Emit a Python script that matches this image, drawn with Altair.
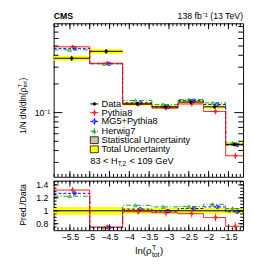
import altair as alt
import pandas as pd
import numpy as np

FONT = "Liberation Sans"

# ---------------- values ----------------
bin_edges = [-5.91, -5.0, -4.17, -3.43, -2.77, -2.13, -1.57, -1.13]
data_vals = [0.372, 0.440, 0.1236, 0.115, 0.129, 0.115, 0.0464]
total_unc_rel = [0.06, 0.06, 0.045, 0.045, 0.045, 0.045, 0.045]
stat_unc_rel = [0.006, 0.005, 0.005, 0.005, 0.005, 0.006, 0.009]

generators = ["Pythia8", "MG5+Pythia8", "Herwig7"]
ratio_pythia8 = [1.32, 0.75, 0.985, 0.97, 0.955, 0.895, 0.76]
ratio_mg5 = [1.27, 0.74, 1.025, 0.995, 1.035, 1.06, 0.985]
ratio_herwig7 = [1.225, 0.74, 1.085, 1.06, 1.065, 1.10, 1.035]
err_pythia8 = [0.05, 0.04, 0.045, 0.06, 0.06, 0.06, 0.06]
err_mg5 = [0.02, 0.015, 0.015, 0.02, 0.02, 0.02, 0.03]
err_herwig7 = [0.02, 0.015, 0.015, 0.02, 0.02, 0.02, 0.03]

x_major_ticks = [-5.5, -5, -4.5, -4, -3.5, -3, -2.5, -2, -1.5]
x_minor_ticks = [round(v, 2) for v in np.arange(-5.9, -1.15, 0.1)]
top_major_ticks = [0.1]
top_minor_ticks = [0.03, 0.04, 0.05, 0.06, 0.07, 0.08, 0.09, 0.2, 0.3, 0.4, 0.5, 0.6, 0.7, 0.8]
ratio_major_ticks = [0.8, 1.0, 1.2, 1.4]
ratio_minor_ticks = [round(v, 2) for v in np.arange(0.75, 1.46, 0.05)]

legend_labels = ["Data", "Pythia8", "MG5+Pythia8", "Herwig7",
                 "Statistical Uncertainty", "Total Uncertainty"]

# ---------------- styles ----------------
colors = {"Pythia8": "#ff0000", "MG5+Pythia8": "#0000ff", "Herwig7": "#1f9e1f"}
dashes = {"Pythia8": [1, 0], "MG5+Pythia8": [3, 2], "Herwig7": [5, 2, 1, 2]}
shapes = {"Pythia8": "diamond", "MG5+Pythia8": "circle", "Herwig7": "triangle-up"}
offsets = {"Pythia8": 1, "MG5+Pythia8": 3, "Herwig7": -2}
ratios = {"Pythia8": ratio_pythia8, "MG5+Pythia8": ratio_mg5, "Herwig7": ratio_herwig7}
errs = {"Pythia8": err_pythia8, "MG5+Pythia8": err_mg5, "Herwig7": err_herwig7}
YELLOW = "#ffff00"
STATC = "#c8c2a6"
MSIZE, MSW = 13, 0.8

W, HT, HR = 195, 158, 51

# Arial-compatible advance widths (em) for text placement
AW = {'1': .556, '/': .278, 'N': .722, ' ': .278, 'd': .556, 'l': .222, 'n': .556,
      '(': .333, ')': .333, 'ρ': .57, 'T': .611, 't': .278, 'o': .556, '8': .556,
      '3': .556, '<': .584, 'H': .722, ',': .278, '2': .556}


def tw(s, size):
    return sum(AW.get(c, .556) for c in s) * size


# ---------------- tables ----------------
lo = bin_edges[:-1]
hi = bin_edges[1:]
bins = pd.DataFrame({
    "lo": lo, "hi": hi,
    "c": [(a + b) / 2 for a, b in zip(lo, hi)],
    "d": data_vals,
    "tlo": [d * (1 - t) for d, t in zip(data_vals, total_unc_rel)],
    "thi": [d * (1 + t) for d, t in zip(data_vals, total_unc_rel)],
    "slo": [d * (1 - s) for d, s in zip(data_vals, stat_unc_rel)],
    "shi": [d * (1 + s) for d, s in zip(data_vals, stat_unc_rel)],
    "rtlo": [1 - t for t in total_unc_rel],
    "rthi": [1 + t for t in total_unc_rel],
    "rslo": [1 - s for s in stat_unc_rel],
    "rshi": [1 + s for s in stat_unc_rel],
    "one": [1.0] * len(lo),
})

mc = {}
steps = {}
for g in generators:
    r = ratios[g]
    e = errs[g]
    mc[g] = pd.DataFrame({
        "c": bins["c"],
        "v": [d * x for d, x in zip(data_vals, r)],
        "vlo": [d * (x - y) for d, x, y in zip(data_vals, r, e)],
        "vhi": [d * (x + y) for d, x, y in zip(data_vals, r, e)],
        "r": r,
        "rlo": [x - y for x, y in zip(r, e)],
        "rhi": [x + y for x, y in zip(r, e)],
    })
    steps[g] = pd.DataFrame({
        "e": bin_edges,
        "v": [d * x for d, x in zip(data_vals, r)] + [data_vals[-1] * r[-1]],
        "r": list(r) + [r[-1]],
    })

one = pd.DataFrame({"a": [0]})

# ---------------- scales / axes ----------------
xsc = alt.Scale(domain=[bin_edges[0], bin_edges[-1]], nice=False, zero=False)
ysc_t = alt.Scale(type="log", domain=[0.0212, 0.866], nice=False)
ysc_r = alt.Scale(domain=[0.70, 1.465], nice=False, zero=False)

lbl = dict(labelFont=FONT, labelFontSize=9, labelColor="black", ticks=False,
           domain=False, grid=False, title=None, labelOverlap=False)
ax_y_t = alt.Axis(values=top_major_ticks, labelExpr="'10⁻¹'", labelPadding=4, **lbl)
ax_x_r = alt.Axis(values=x_major_ticks, format="~g", labelPadding=3, labelFlush=False, **lbl)
ax_y_r = alt.Axis(values=ratio_major_ticks, format="~g", labelPadding=6, **lbl)


def XT(f):
    return alt.X(f + ":Q", scale=xsc, axis=None)


def YT(f):
    return alt.Y(f + ":Q", scale=ysc_t, axis=ax_y_t)


def XR(f):
    return alt.X(f + ":Q", scale=xsc, axis=ax_x_r)


def YR(f):
    return alt.Y(f + ":Q", scale=ysc_r, axis=ax_y_r)


def text(s, x, y, size, align="left", baseline="middle", angle=0, weight="normal"):
    return alt.Chart(one).mark_text(
        text=s, font=FONT, fontSize=size, align=align, baseline=baseline,
        angle=angle, fontWeight=weight, color="black"
    ).encode(x=alt.value(x), y=alt.value(y))


def tick_layers(X, Y, H, xmaj, xmin, ymaj, ymin, xl, yl):
    out = []
    for vals, L in [(xmaj, xl[0]), (xmin, xl[1])]:
        df = pd.DataFrame({"t": vals})
        out.append(alt.Chart(df).mark_rule(color="black", strokeWidth=1).encode(
            x=X("t"), y=alt.value(0), y2=alt.value(L)))
        out.append(alt.Chart(df).mark_rule(color="black", strokeWidth=1).encode(
            x=X("t"), y=alt.value(H), y2=alt.value(H - L)))
    for vals, L in [(ymaj, yl[0]), (ymin, yl[1])]:
        df = pd.DataFrame({"t": vals})
        out.append(alt.Chart(df).mark_rule(color="black", strokeWidth=1).encode(
            y=Y("t"), x=alt.value(0), x2=alt.value(L)))
        out.append(alt.Chart(df).mark_rule(color="black", strokeWidth=1).encode(
            y=Y("t"), x=alt.value(W), x2=alt.value(W - L)))
    return out


# ---------------- upper panel ----------------
top = []
top.append(alt.Chart(bins).mark_rect(color=YELLOW).encode(
    x=XT("lo"), x2="hi:Q", y=YT("tlo"), y2="thi:Q"))
top.append(alt.Chart(bins).mark_rect(color=STATC).encode(
    x=XT("lo"), x2="hi:Q", y=YT("slo"), y2="shi:Q"))
for g in ["Herwig7", "MG5+Pythia8", "Pythia8"]:
    top.append(alt.Chart(steps[g]).mark_line(
        interpolate="step-after", color=colors[g], strokeDash=dashes[g], strokeWidth=1
    ).encode(x=XT("e"), y=YT("v")))
for g in ["Herwig7", "MG5+Pythia8", "Pythia8"]:
    top.append(alt.Chart(mc[g]).mark_rule(color=colors[g], strokeWidth=MSW, xOffset=offsets[g]).encode(
        x=XT("c"), y=YT("vlo"), y2="vhi:Q"))
    top.append(alt.Chart(mc[g]).mark_point(
        shape=shapes[g], filled=False, size=MSIZE, strokeWidth=MSW, color=colors[g], opacity=1,
        xOffset=offsets[g]).encode(x=XT("c"), y=YT("v")))
top.append(alt.Chart(bins).mark_rule(color="black", strokeWidth=1).encode(
    x=XT("lo"), x2="hi:Q", y=YT("d")))
top.append(alt.Chart(bins).mark_rule(color="black", strokeWidth=1).encode(
    x=XT("c"), y=YT("tlo"), y2="thi:Q"))
top.append(alt.Chart(bins).mark_circle(color="black", size=12, opacity=1).encode(
    x=XT("c"), y=YT("d")))
top += tick_layers(XT, YT, HT, x_major_ticks, x_minor_ticks, top_major_ticks, top_minor_ticks,
                   (6, 3), (9, 5))

# header texts
top.append(text("CMS", 0, -4, 9, baseline="alphabetic", weight="bold"))
top.append(text("138 fb⁻¹ (13 TeV)", W, -4, 9, align="right", baseline="alphabetic"))

# y title with super/subscript
s1 = "1/N dN/dln(ρ"
ty0, tx0, tfs = 114, -31.5, 8.5
yend = ty0 - tw(s1, tfs)
top.append(text(s1, tx0, ty0, tfs, angle=270))
top.append(text("T", tx0 - 3, yend, 6, angle=270))
top.append(text("tot", tx0 + 2.5, yend, 6, angle=270))
top.append(text(")", tx0, yend - tw("tot", 6) - 0.5, tfs, angle=270))

# legend
rows = [83, 92, 101, 111, 120.3, 129.7]
lx0, lx1, lxm, ltx, lfs = 37.7, 46, 42, 49.3, 9.5
# Data
top.append(alt.Chart(one).mark_rule(color="black", strokeWidth=1).encode(
    x=alt.value(lx0), x2=alt.value(lx1), y=alt.value(rows[0])))
top.append(alt.Chart(one).mark_circle(color="black", size=12, opacity=1).encode(
    x=alt.value(lxm), y=alt.value(rows[0])))
for i, g in enumerate(generators):
    yy = rows[i + 1]
    top.append(alt.Chart(one).mark_rule(color=colors[g], strokeWidth=1, strokeDash=dashes[g]).encode(
        x=alt.value(lx0), x2=alt.value(lx1), y=alt.value(yy)))
    top.append(alt.Chart(one).mark_rule(color=colors[g], strokeWidth=MSW).encode(
        x=alt.value(lxm), y=alt.value(yy - 3.5), y2=alt.value(yy + 3.5)))
    top.append(alt.Chart(one).mark_point(shape=shapes[g], filled=False, size=MSIZE, strokeWidth=MSW,
                                         color=colors[g], opacity=1).encode(
        x=alt.value(lxm), y=alt.value(yy)))
for i, fc in [(4, STATC), (5, YELLOW)]:
    yy = rows[i]
    top.append(alt.Chart(one).mark_rect(fill=fc, stroke="black", strokeWidth=0.8).encode(
        x=alt.value(lx0), x2=alt.value(lx1), y=alt.value(yy - 3.5), y2=alt.value(yy + 3.5)))
for i, lab in enumerate(legend_labels):
    top.append(text(lab, ltx, rows[i], lfs))
# HT range label
hy, hx = 142, 37.7
p1 = "83 < H"
top.append(text(p1, hx, hy, lfs))
sx = hx + tw(p1, lfs)
top.append(text("T,2", sx, hy + 3, 6.5))
sx2 = sx + tw("T,2", 6.5) + tw(" ", lfs)
top.append(text("< 109 GeV", sx2, hy, lfs))

upper = alt.layer(*top).properties(width=W, height=HT)

# ---------------- ratio panel ----------------
bot = []
bot.append(alt.Chart(bins).mark_rect(color=YELLOW).encode(
    x=XR("lo"), x2="hi:Q", y=YR("rtlo"), y2="rthi:Q"))
bot.append(alt.Chart(bins).mark_rect(color=STATC).encode(
    x=XR("lo"), x2="hi:Q", y=YR("rslo"), y2="rshi:Q"))
bot.append(alt.Chart(bins).mark_rule(color="black", strokeWidth=1).encode(
    x=XR("lo"), x2="hi:Q", y=YR("one")))
for g in ["Herwig7", "MG5+Pythia8", "Pythia8"]:
    bot.append(alt.Chart(steps[g]).mark_line(
        interpolate="step-after", color=colors[g], strokeDash=dashes[g], strokeWidth=1
    ).encode(x=XR("e"), y=YR("r")))
for g in ["Herwig7", "MG5+Pythia8", "Pythia8"]:
    bot.append(alt.Chart(mc[g]).mark_rule(color=colors[g], strokeWidth=MSW, xOffset=offsets[g]).encode(
        x=XR("c"), y=YR("rlo"), y2="rhi:Q"))
    bot.append(alt.Chart(mc[g]).mark_point(
        shape=shapes[g], filled=False, size=MSIZE, strokeWidth=MSW, color=colors[g], opacity=1,
        xOffset=offsets[g]).encode(x=XR("c"), y=YR("r")))
bot += tick_layers(XR, YR, HR, x_major_ticks, x_minor_ticks, ratio_major_ticks, ratio_minor_ticks,
                   (6, 3), (5, 3))
bot.append(text("Pred./Data", -31.5, 25, 9, align="center", angle=270))
# x title ln(rho^T_tot)
bx, by, bfs = 84, 75, 10
b1 = "ln(ρ"
bot.append(text(b1, bx, by, bfs, baseline="alphabetic"))
bx2 = bx + tw(b1, bfs) + 0.3
bot.append(text("T", bx2, by - 4, 7, baseline="alphabetic"))
bot.append(text("tot", bx2, by + 4, 7, baseline="alphabetic"))
bot.append(text(")", bx2 + tw("tot", 7) + 0.5, by, bfs, baseline="alphabetic"))

lower = alt.layer(*bot).properties(width=W, height=HR)

chart = alt.vconcat(upper, lower, spacing=2).properties(
    padding={"left": 9, "top": 0, "right": 0, "bottom": 0},
    background="white",
).configure_view(stroke="black", strokeWidth=1)

chart.save("out.html", embed_options={"renderer": "svg", "actions": False})
